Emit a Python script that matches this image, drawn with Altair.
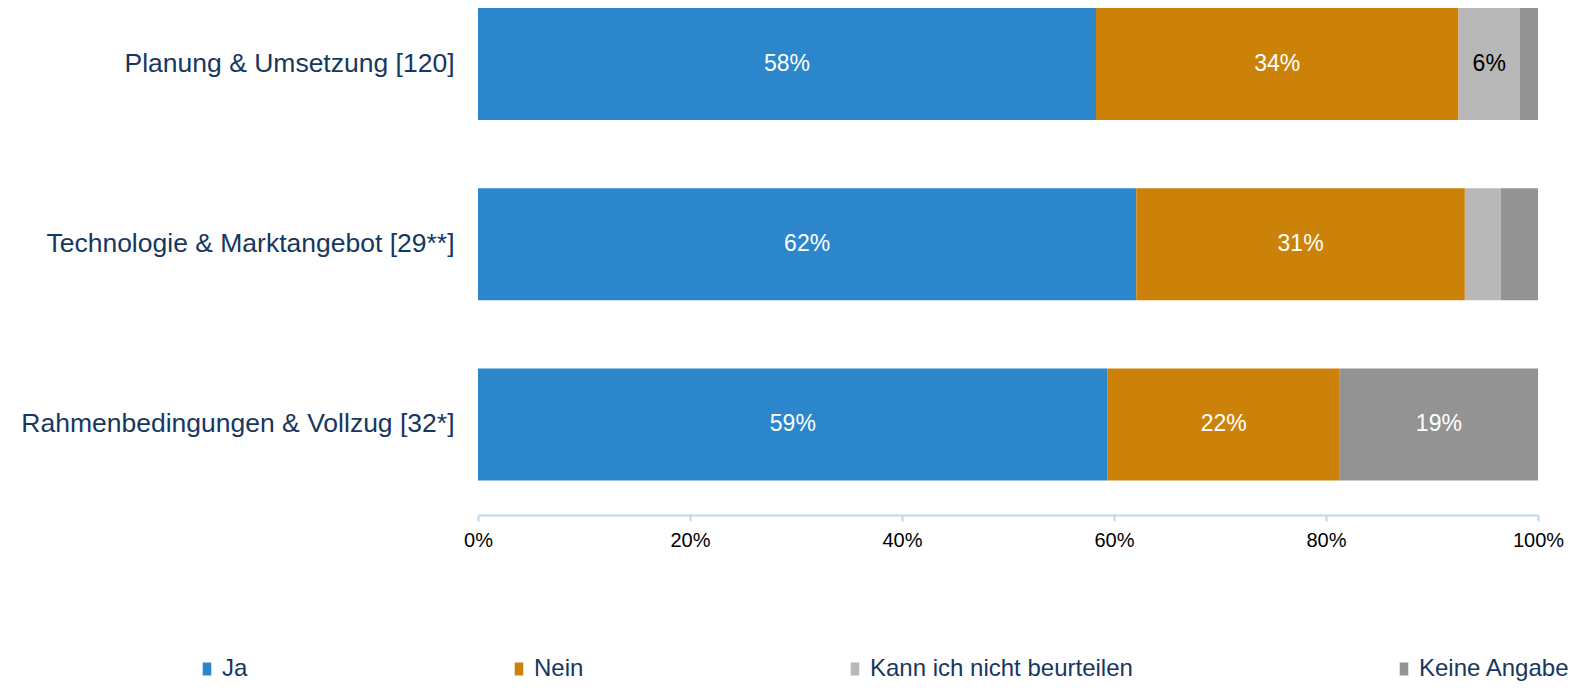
import altair as alt
import pandas as pd

categories = [
    "Planung & Umsetzung [120]",
    "Technologie & Marktangebot [29**]",
    "Rahmenbedingungen & Vollzug [32*]",
]
series = ["Ja", "Nein", "Kann ich nicht beurteilen", "Keine Angabe"]
ja = [0.583, 0.621, 0.594]
nein = [0.342, 0.310, 0.219]
kann = [0.058, 0.034, 0.0]
keine = [0.017, 0.035, 0.187]
colors = ["#2C86CC", "#CC8208", "#B8B8B8", "#939393"]
tick_values = [0, 0.2, 0.4, 0.6, 0.8, 1.0]

NAVY = "#17375E"
FONT = "Liberation Sans"

rows = []
for i, c in enumerate(categories):
    for j, (s, vals) in enumerate(zip(series, [ja, nein, kann, keine])):
        rows.append({"Kategorie": c, "Antwort": s, "Anteil": vals[i], "Reihenfolge": j})
df = pd.DataFrame(rows)

base = (
    alt.Chart(df)
    .transform_stack(
        stack="Anteil",
        groupby=["Kategorie"],
        sort=[alt.SortField("Reihenfolge", order="ascending")],
        as_=["x0", "x1"],
    )
    .transform_calculate(
        mid="(datum.x0 + datum.x1) / 2",
        tc="datum.Antwort == 'Kann ich nicht beurteilen' ? '#000000' : '#FFFFFF'",
    )
)

y_enc = alt.Y(
    "Kategorie:N",
    sort=categories,
    scale=alt.Scale(paddingInner=0.3786, paddingOuter=0.0957, align=0),
    axis=alt.Axis(
        title=None,
        domain=False,
        ticks=False,
        labelFontSize=26.5,
        labelFont=FONT,
        labelColor=NAVY,
        labelPadding=24,
        labelLimit=800,
    ),
)

bars = base.mark_bar().encode(
    y=y_enc,
    x=alt.X(
        "x0:Q",
        scale=alt.Scale(domain=[0, 1], nice=False),
        axis=alt.Axis(
            title=None,
            format=".0%",
            values=tick_values,
            grid=False,
            domainColor="#BDD7EE",
            domainWidth=2,
            tickColor="#BDD7EE",
            tickWidth=2,
            tickSize=6,
            labelFontSize=20,
            labelFont=FONT,
            labelColor="#000000",
            labelPadding=9,
            labelFlush=False,
        ),
    ),
    x2="x1:Q",
    color=alt.Color(
        "Antwort:N",
        scale=alt.Scale(domain=series, range=colors),
        legend=alt.Legend(
            title=None,
            orient="none",
            legendX=-283,
            legendY=649,
            direction="horizontal",
            columnPadding=259,
            symbolType="M-0.66,-1H0.66V1H-0.66Z",
            symbolSize=169,
            symbolStrokeWidth=0,
            labelFontSize=24,
            labelFont=FONT,
            labelColor=NAVY,
            labelOffset=3,
            labelLimit=500,
        ),
    ),
)

labels = (
    base.transform_filter("datum.Anteil >= 0.05")
    .mark_text(fontSize=23, font=FONT)
    .encode(
        y=alt.Y("Kategorie:N", sort=categories),
        x=alt.X("mid:Q"),
        text=alt.Text("Anteil:Q", format=".0%"),
        color=alt.Color("tc:N", scale=None),
    )
)

chart = (
    alt.layer(bars, labels)
    .properties(
        width=1060,
        height=507,
        autosize=alt.AutoSizeParams(type="none"),
        padding={"left": 470, "top": 0, "right": 30, "bottom": 167},
    )
    .configure_view(stroke=None)
)

chart.save("out.html", embed_options={"renderer": "svg", "actions": False})
